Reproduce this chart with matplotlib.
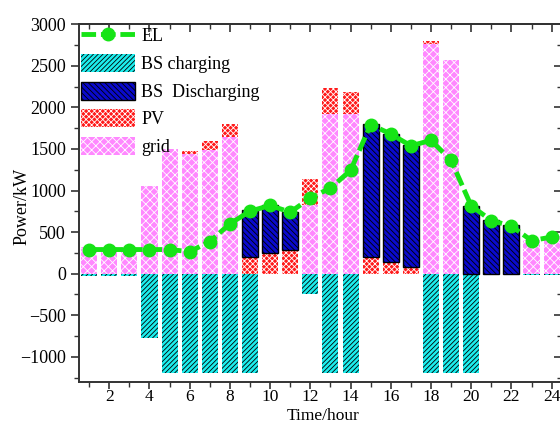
import matplotlib

matplotlib.use("Agg")
import matplotlib.pyplot as plt
import matplotlib.transforms as mtransforms
import numpy as np
from matplotlib.lines import Line2D
from matplotlib.patches import Patch
from matplotlib.ticker import MultipleLocator

hours = np.arange(1, 25)

# load and source profiles per hour (kW)
el_load = [290, 290, 290, 290, 290, 265, 386, 600, 752, 820, 740, 910,
           1030, 1242, 1794, 1680, 1538, 1604, 1363, 816, 639, 572, 398, 440]
grid = [320, 320, 320, 1060, 1500, 1440, 1490, 1645, 0, 0, 0, 820,
        1915, 1915, 0, 0, 0, 2760, 2570, 0, 0, 0, 400, 455]
pv = [0, 0, 0, 0, 0, 30, 100, 155, 200, 245, 280, 320,
      315, 270, 200, 140, 80, 40, 0, 0, 0, 0, 0, 0]
bs_discharging = [0, 0, 0, 0, 0, 0, 0, 0, 560, 575, 460, 0,
                  0, 0, 1595, 1545, 1465, 0, 0, 815, 640, 580, 0, 0]
bs_charging = [-30, -30, -30, -780, -1200, -1200, -1200, -1200, -1200, 0, 0, -245,
               -1200, -1200, 0, 0, 0, -1200, -1200, -1200, 0, 0, -20, -20]

plt.rcParams["font.family"] = ["Liberation Serif", "DejaVu Serif"]
plt.rcParams["font.size"] = 13
plt.rcParams["hatch.linewidth"] = 0.6

C_EL = "#16E416"
C_CHG = "#1CEEEE"
C_DIS = "#0A0ACC"
C_PV = "#FF1A1A"
C_GRID = "#FF88FF"

charge_style = dict(facecolor=C_CHG, edgecolor="black", linewidth=0, hatch="///////")
discharge_style = dict(facecolor=C_DIS, edgecolor="black", linewidth=1.0, hatch="\\\\\\\\\\\\")
pv_style = dict(facecolor=C_PV, edgecolor="white", linewidth=0, hatch="xxxxxx")
grid_style = dict(facecolor=C_GRID, edgecolor="white", linewidth=0, hatch="xxxx")

fig = plt.figure(figsize=(5.6, 4.24), dpi=100)
ax = fig.add_axes([79.1 / 560, 1 - 381.7 / 424, 482.6 / 560, 357.4 / 424])

width = 0.8
grid_arr = np.array(grid)
pv_arr = np.array(pv)

ax.bar(hours, bs_charging, width, **charge_style)
ax.bar(hours, grid, width, **grid_style)
ax.bar(hours, pv, width, bottom=grid_arr, **pv_style)
disch = ax.bar(hours, bs_discharging, width, bottom=grid_arr + pv_arr, **discharge_style)
for rect, v in zip(disch, bs_discharging):
    if v == 0:
        rect.set_visible(False)

ax.plot(hours, el_load, color=C_EL, linewidth=3.5, dashes=(3, 1),
        marker="o", markersize=9, zorder=5)

ax.set_xlim(0.5, 24.5)
ax.set_ylim(-1300, 3000)
ax.xaxis.set_major_locator(MultipleLocator(2))
ax.xaxis.set_minor_locator(MultipleLocator(1))
ax.yaxis.set_major_locator(MultipleLocator(500))
ax.yaxis.set_minor_locator(MultipleLocator(250))
ax.tick_params(which="major", direction="out", length=6, width=1.2, color="#333333")
ax.tick_params(which="minor", direction="out", length=3.5, width=1.0, color="#333333")
ax.tick_params(axis="x", which="major", length=5, pad=0.5, labelsize=12.5)

# mirrored ticks on top and right, pointing inward
top = ax.secondary_xaxis("top")
top.xaxis.set_major_locator(MultipleLocator(2))
top.xaxis.set_minor_locator(MultipleLocator(1))
top.tick_params(which="major", direction="in", length=6, width=1.2,
                color="#333333", labeltop=False)
top.tick_params(which="minor", direction="in", length=3.5, width=1.0,
                color="#333333")
right = ax.secondary_yaxis("right")
right.yaxis.set_major_locator(MultipleLocator(500))
right.yaxis.set_minor_locator(MultipleLocator(250))
right.tick_params(which="major", direction="in", length=6, width=1.2,
                  color="#333333", labelright=False)
right.tick_params(which="minor", direction="in", length=3.5, width=1.0,
                  color="#333333")

for spine in list(ax.spines.values()) + list(top.spines.values()) + list(right.spines.values()):
    spine.set_linewidth(1.4)
    spine.set_color("#333333")

# x label sits tight under the tick labels, flush with the bottom edge
ax.set_xlabel("Time/hour", fontsize=12.5)
ax.set_ylabel("Power/kW")
label_trans = mtransforms.blended_transform_factory(ax.transAxes, fig.transFigure)
ax.xaxis.set_label_coords(0.505, 0.5 / 424, transform=label_trans)
ax.xaxis.label.set_va("bottom")
ax.yaxis.set_label_coords(-0.119, 0.49)
ax.yaxis.label.set_va("center")

handles = [
    Line2D([], [], color=C_EL, linewidth=3.5, dashes=(3, 1), marker="o", markersize=9),
    Patch(**charge_style),
    Patch(**discharge_style),
    Patch(**pv_style),
    Patch(**grid_style),
]
labels = ["EL", "BS charging", "BS  Discharging", "PV", "grid"]
leg = ax.legend(handles, labels, loc="upper left",
                bbox_to_anchor=(0, 1), frameon=False, borderaxespad=0,
                borderpad=0.1, handlelength=3.0, handleheight=1.15,
                handletextpad=0.35, labelspacing=0.48, numpoints=1)
leg.set_zorder(10)

fig.savefig("out.png", dpi=100)
